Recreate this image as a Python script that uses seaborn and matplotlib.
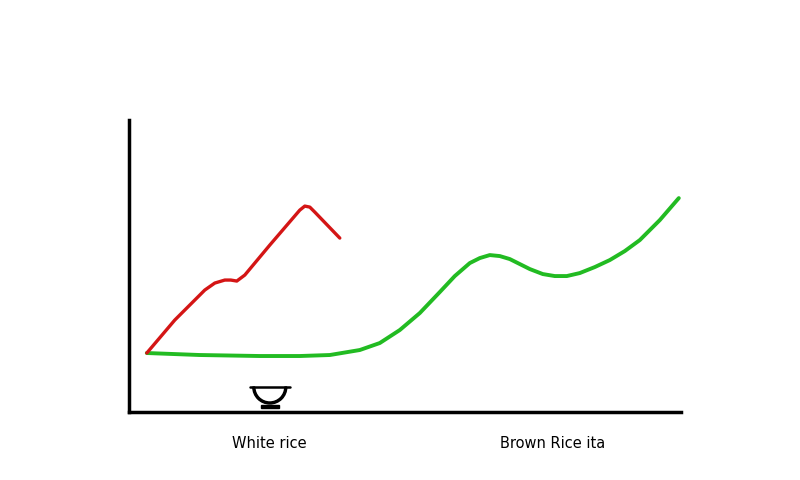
import matplotlib
matplotlib.use("Agg")
import matplotlib.pyplot as plt
import seaborn as sns
import pandas as pd
from matplotlib.patches import Wedge, Rectangle

# values (arbitrary units, axis spans 0..552 x 0..292)
white_x = [18, 46, 76, 86, 96, 102, 108, 116, 141, 171, 176, 181, 186, 211]
white_y = [59, 92, 122, 129, 132, 132, 131, 137, 167, 202, 206, 205, 200, 174]
brown_x = [18, 71, 131, 171, 201, 231, 251, 271, 291, 311, 326, 341, 351, 361, 371, 381, 391,
           401, 414, 426, 438, 451, 466, 481, 496, 511, 531, 550]
brown_y = [59, 57, 56, 56, 57, 62, 69, 82, 99, 120, 136, 149, 154, 157, 156, 153, 148,
           143, 138, 136, 136, 139, 145, 152, 161, 172, 192, 214]
tick_pos = [141, 424]
tick_labels = ["White rice", "Brown Rice ita"]

sns.set_theme(style="white")
plt.rcParams['font.family'] = ['DejaVu Sans']

fig = plt.figure(figsize=(8, 4.8), dpi=100)
ax = fig.add_axes([0.161, 0.1417, 0.69, 0.608])

df_w = pd.DataFrame({"x": white_x, "y": white_y})
df_b = pd.DataFrame({"x": brown_x, "y": brown_y})
sns.lineplot(data=df_b, x="x", y="y", color="#22bb22", linewidth=2.8, ax=ax, sort=False,
             solid_joinstyle="round", solid_capstyle="round")
sns.lineplot(data=df_w, x="x", y="y", color="#d41515", linewidth=2.4, ax=ax, sort=False,
             solid_joinstyle="round", solid_capstyle="round")

ax.set_xlim(0, 552)
ax.set_ylim(0, 292)
ax.set_xticks(tick_pos)
ax.set_xticklabels(tick_labels, fontsize=10.5, color="black")
ax.tick_params(axis="x", length=0, pad=17)
ax.set_yticks([])
ax.set_xlabel("")
ax.set_ylabel("")
for s in ["top", "right"]:
    ax.spines[s].set_visible(False)
for s in ["left", "bottom"]:
    ax.spines[s].set_color("black")
    ax.spines[s].set_linewidth(2.5)

# small bowl icon
ax.add_patch(Wedge((141, 25), 17, 180, 360, width=2, color="black", clip_on=False))
ax.plot([121, 161], [25, 25], color="black", lw=1.8)
ax.add_patch(Rectangle((132, 4), 18, 3, color="black", clip_on=False))

fig.savefig("out.png", dpi=100)
